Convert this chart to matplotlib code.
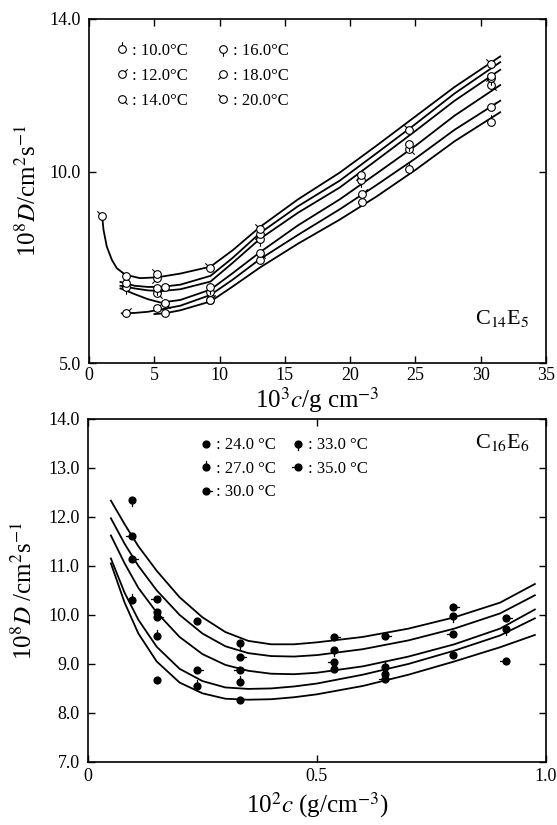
import numpy as np
import matplotlib
matplotlib.use('Agg')
import matplotlib.pyplot as plt
from matplotlib.path import Path

plt.rcParams['font.family'] = ['Liberation Serif', 'DejaVu Serif']
plt.rcParams['mathtext.fontset'] = 'stix'

# ---- top panel (C14E5): measured points per temperature ----
top_temps = ['10.0', '12.0', '14.0', '16.0', '18.0', '20.0']
top_x = {
    '20.0': [1.0, 2.8, 5.2, 9.3, 13.1, 24.5, 30.8],
    '18.0': [2.8, 5.2, 5.8, 13.1, 20.8, 30.8],
    '16.0': [2.8, 5.2, 9.3, 13.1, 20.8, 24.5, 30.8],
    '14.0': [5.2, 5.8, 9.3, 13.1, 24.5, 30.8],
    '12.0': [2.8, 5.2, 9.3, 13.1, 20.9, 30.8],
    '10.0': [5.8, 9.3, 20.9, 24.5, 30.8],
}
top_y = {
    '20.0': [8.84, 7.28, 7.34, 7.48, 8.51, 11.09, 12.82],
    '18.0': [7.08, 7.22, 7.00, 8.38, 9.91, 12.50],
    '16.0': [6.98, 6.96, 7.00, 8.25, 9.80, 10.72, 12.45],
    '14.0': [6.83, 6.57, 6.87, 7.88, 10.59, 12.27],
    '12.0': [6.30, 6.43, 6.65, 7.70, 9.41, 11.70],
    '10.0': [6.32, 6.65, 9.22, 10.07, 11.31],
}
# fitted curves
top_curve_x = {
    '20.0': [1.0, 1.1, 1.35, 1.74, 2.12, 2.76, 3.9, 5.2, 7.0, 9.3, 11.0, 13.1, 16.0, 19.2, 22.0, 25.0, 28.0, 31.5],
    '18.0': [2.4, 2.8, 3.5, 4.5, 5.5, 7.0, 9.3, 11.0, 13.1, 16.0, 19.2, 22.0, 25.0, 28.0, 31.5],
    '16.0': [2.4, 2.8, 3.5, 4.5, 5.5, 7.0, 9.3, 11.0, 13.1, 16.0, 19.2, 22.0, 25.0, 28.0, 31.5],
    '14.0': [2.4, 2.8, 3.5, 4.5, 5.5, 7.0, 9.3, 11.0, 13.1, 16.0, 19.2, 22.0, 25.0, 28.0, 31.5],
    '12.0': [2.5, 3.5, 4.5, 5.5, 7.0, 9.3, 11.0, 13.1, 16.0, 19.2, 22.0, 25.0, 28.0, 31.5],
    '10.0': [5.0, 5.8, 7.0, 9.3, 11.0, 13.1, 16.0, 19.2, 22.0, 25.0, 28.0, 31.5],
}
top_curve_y = {
    '20.0': [8.84, 8.49, 8.05, 7.70, 7.48, 7.31, 7.22, 7.24, 7.34, 7.52, 7.95, 8.56, 9.28, 9.98, 10.68, 11.45, 12.22, 13.02],
    '18.0': [7.12, 7.08, 7.02, 6.99, 6.99, 7.05, 7.28, 7.75, 8.40, 9.10, 9.77, 10.48, 11.25, 12.05, 12.87],
    '16.0': [7.02, 7.00, 6.95, 6.90, 6.88, 6.93, 7.13, 7.62, 8.25, 8.93, 9.59, 10.30, 11.07, 11.86, 12.67],
    '14.0': [6.95, 6.90, 6.80, 6.67, 6.58, 6.65, 6.92, 7.35, 7.90, 8.60, 9.28, 9.95, 10.68, 11.47, 12.27],
    '12.0': [6.30, 6.31, 6.34, 6.40, 6.50, 6.78, 7.18, 7.72, 8.35, 9.02, 9.65, 10.35, 11.10, 11.86],
    '10.0': [6.28, 6.30, 6.38, 6.61, 7.00, 7.50, 8.12, 8.75, 9.35, 10.05, 10.80, 11.56],
}
top_angles = {'10.0': 90, '12.0': 45, '14.0': -45, '16.0': -90, '18.0': 225, '20.0': 135}

# ---- bottom panel (C16E6) ----
bot_temps = ['24.0', '27.0', '30.0', '33.0', '35.0']
bot_x = {
    '24.0': [0.151, 0.151, 0.239, 0.332, 0.648, 0.798],
    '27.0': [0.095, 0.151, 0.239, 0.332, 0.538, 0.648],
    '30.0': [0.095, 0.151, 0.239, 0.332, 0.538, 0.648, 0.798, 0.914],
    '33.0': [0.095, 0.332, 0.538, 0.798, 0.914],
    '35.0': [0.095, 0.151, 0.332, 0.538, 0.648, 0.798, 0.914],
}
bot_y = {
    '24.0': [10.06, 8.67, 9.88, 8.26, 8.79, 9.19],
    '27.0': [10.31, 9.57, 8.55, 8.63, 8.89, 8.94],
    '30.0': [11.13, 9.95, 8.87, 9.14, 9.55, 9.57, 10.16, 9.93],
    '33.0': [12.35, 9.43, 9.29, 9.97, 9.72],
    '35.0': [11.61, 10.33, 8.87, 9.04, 8.69, 9.60, 9.06],
}
bot_curve_x = [0.05, 0.08, 0.11, 0.15, 0.2, 0.25, 0.3, 0.35, 0.4, 0.45, 0.5, 0.6, 0.7, 0.8, 0.9, 0.976]
bot_curve_y = {
    '33.0': [12.33, 11.85, 11.40, 10.90, 10.36, 9.95, 9.65, 9.47, 9.40, 9.40, 9.44, 9.55, 9.72, 9.95, 10.25, 10.63],
    '30.0': [11.97, 11.45, 11.00, 10.50, 10.00, 9.62, 9.36, 9.22, 9.16, 9.15, 9.18, 9.30, 9.48, 9.72, 10.03, 10.40],
    '35.0': [11.62, 11.05, 10.55, 10.05, 9.55, 9.20, 8.98, 8.86, 8.80, 8.79, 8.82, 8.95, 9.15, 9.40, 9.72, 10.11],
    '27.0': [11.15, 10.45, 9.90, 9.35, 8.90, 8.65, 8.52, 8.49, 8.50, 8.54, 8.60, 8.78, 9.00, 9.27, 9.58, 9.93],
    '24.0': [11.05, 10.25, 9.62, 9.05, 8.62, 8.40, 8.29, 8.27, 8.28, 8.32, 8.38, 8.55, 8.78, 9.05, 9.34, 9.59],
}
bot_angles = {'24.0': None, '27.0': 90, '30.0': 0, '33.0': -90, '35.0': 180}


def tail_marker(angle):
    # circle with a short stick; the extra moveto keeps every marker on the same scale
    circ = Path.unit_circle()
    verts = list(circ.vertices) + [(1.9, 1.9)]
    codes = list(circ.codes) + [Path.MOVETO]
    if angle is not None:
        a = np.radians(angle)
        verts += [(np.cos(a), np.sin(a)), (1.9 * np.cos(a), 1.9 * np.sin(a))]
        codes += [Path.MOVETO, Path.LINETO]
    return Path(verts, codes)


fig = plt.figure(figsize=(5.57, 8.25), dpi=100)
ax1 = fig.add_axes([0.160, 0.560, 0.820, 0.417])
ax2 = fig.add_axes([0.158, 0.0764, 0.822, 0.416])

# top panel
for t in top_temps:
    ax1.plot(top_curve_x[t], top_curve_y[t], color='black', lw=1.3, zorder=2)
for t in top_temps:
    ax1.plot(top_x[t], top_y[t], ls='none', marker=tail_marker(top_angles[t]),
             ms=10.5, mfc='white', mec='black', mew=0.8, zorder=3,
             label=': ' + t + '\u00b0C')
ax1.set_xlim(0, 35)
ax1.set_ylim(5, 14)
ax1.set_xticks(np.arange(0, 36, 5))
ax1.set_yticks([5, 10, 14])
ax1.set_yticklabels(['5.0', '10.0', '14.0'])
ax1.tick_params(direction='in', top=True, right=True, length=5, width=1, labelsize=13, pad=3)
ax1.tick_params(axis='y', pad=6)
ax1.set_xlabel('10$^3$$c$/g cm$^{-3}$', fontsize=18, labelpad=1)
ax1.set_ylabel('10$^8$$D$/cm$^2$s$^{-1}$', fontsize=18, labelpad=6)
ax1.text(0.905, 0.13, 'C$_{14}$E$_5$', transform=ax1.transAxes, fontsize=16, ha='center', va='center')
ax1.legend(loc='upper left', bbox_to_anchor=(0.04, 0.95), ncol=2, frameon=False,
           fontsize=12, handlelength=1.0, handletextpad=0.1, columnspacing=1.6,
           labelspacing=0.55, borderaxespad=0)

# bottom panel
for t in bot_temps:
    ax2.plot(bot_curve_x, bot_curve_y[t], color='black', lw=1.3, zorder=2)
for t in bot_temps:
    ax2.plot(bot_x[t], bot_y[t], ls='none', marker=tail_marker(bot_angles[t]),
             ms=9.5, mfc='black', mec='black', mew=0.9, zorder=3,
             label=': ' + t + ' \u00b0C')
ax2.set_xlim(0, 1.0)
ax2.set_ylim(7, 14)
ax2.set_xticks([0, 0.5, 1.0])
ax2.set_xticklabels(['0', '0.5', '1.0'])
ax2.set_yticks(np.arange(7, 14.1, 1))
ax2.set_yticklabels(['%.1f' % v for v in np.arange(7, 14.1, 1)])
ax2.tick_params(direction='in', top=True, right=True, length=5, width=1, labelsize=13, pad=4)
ax2.tick_params(axis='y', pad=6)
ax2.set_xlabel('10$^2$$c$ (g/cm$^{-3}$)', fontsize=18, labelpad=4)
ax2.set_ylabel('10$^8$$D$ /cm$^2$s$^{-1}$', fontsize=18, labelpad=8)
ax2.text(0.905, 0.93, 'C$_{16}$E$_6$', transform=ax2.transAxes, fontsize=16, ha='center', va='center')
ax2.legend(loc='upper left', bbox_to_anchor=(0.225, 0.965), ncol=2, frameon=False,
           fontsize=12, handlelength=1.0, handletextpad=0.1, columnspacing=0.8,
           labelspacing=0.45, borderaxespad=0)

for ax in (ax1, ax2):
    for s in ax.spines.values():
        s.set_linewidth(1.2)

fig.savefig('out.png', dpi=100)
